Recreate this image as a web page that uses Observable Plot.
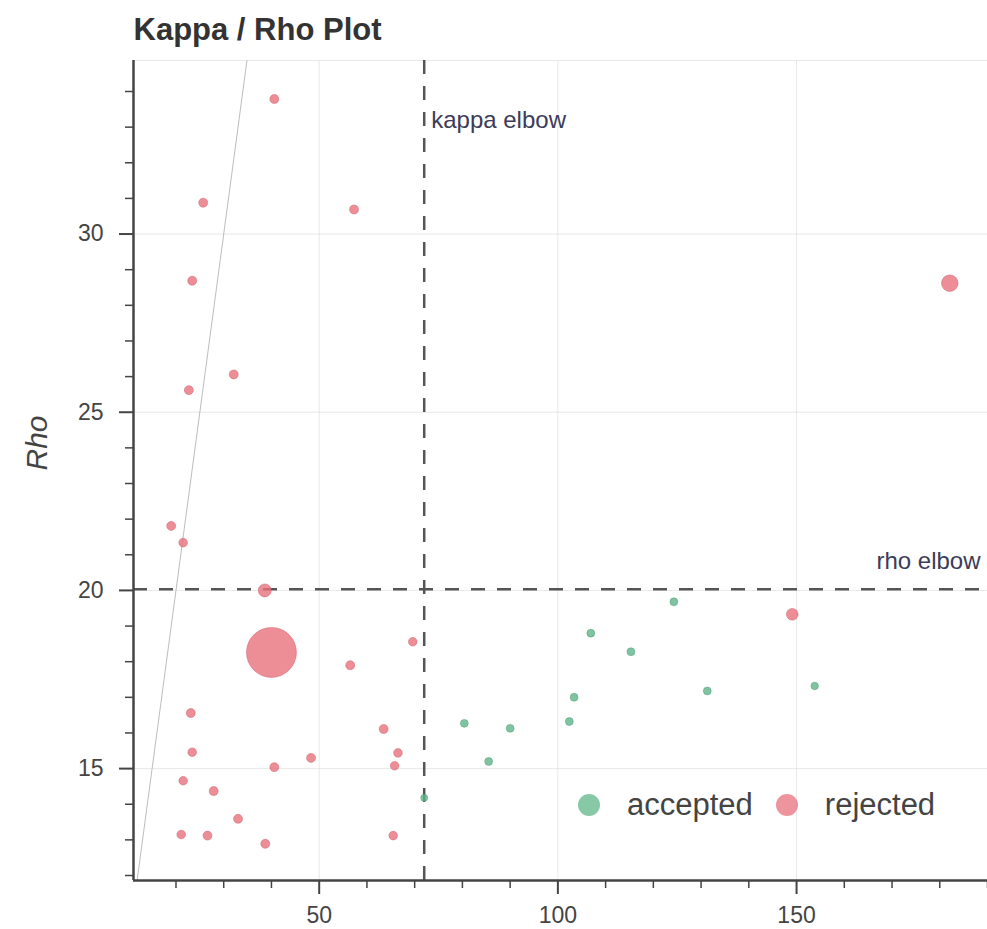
<!DOCTYPE html>
<html>
<head>
<meta charset="utf-8">
<script src="https://cdn.jsdelivr.net/npm/d3@7"></script>
<script src="https://cdn.jsdelivr.net/npm/@observablehq/plot@0.6"></script>
<style>
  body { margin: 0; background: #fff; font-family: "Liberation Sans", Arial, Helvetica, sans-serif; }
  #wrap { position: relative; width: 987px; height: 929px; }
  #legend { position: absolute; left: 578px; top: 787px; height: 36px; display: flex; align-items: center; font-size: 31px; line-height: 36px; color: #444; }
  #legend .sw { width: 22px; height: 22px; border-radius: 50%; opacity: 0.75; flex: none; }
  #legend .lab { margin-left: 27px; margin-right: 23px; }
</style>
</head>
<body>
<div id="wrap"></div>
<script>
// ---- data ----
const rejectedKappa = [40.6, 25.7, 57.3, 23.4, 32.1, 22.7, 19.0, 21.5, 38.6, 40.0, 69.6, 56.5, 23.1, 63.5, 23.4, 66.5, 48.3, 40.6, 65.8, 21.5, 27.9, 33.0, 21.1, 26.6, 65.5, 38.7, 182.1, 149.1];
const rejectedRho   = [33.79, 30.88, 30.69, 28.69, 26.06, 25.62, 21.81, 21.34, 20.0, 18.26, 18.56, 17.9, 16.56, 16.11, 15.46, 15.44, 15.30, 15.04, 15.08, 14.66, 14.37, 13.59, 13.15, 13.12, 13.12, 12.89, 28.62, 19.33];
const rejectedVarex = [0.65, 0.65, 0.65, 0.65, 0.65, 0.65, 0.65, 0.6, 1.35, 20.0, 0.6, 0.65, 0.65, 0.65, 0.6, 0.6, 0.65, 0.65, 0.6, 0.6, 0.65, 0.65, 0.6, 0.65, 0.6, 0.65, 2.2, 1.1];

const acceptedKappa = [72.0, 80.4, 85.5, 90.0, 102.4, 103.4, 106.9, 115.3, 124.3, 131.3, 153.8];
const acceptedRho   = [14.18, 16.27, 15.2, 16.13, 16.32, 17.0, 18.8, 18.28, 19.68, 17.18, 17.32];
const acceptedVarex = [0.4, 0.5, 0.5, 0.5, 0.5, 0.5, 0.5, 0.5, 0.5, 0.5, 0.45];

const kappaElbow = 72.0;
const rhoElbow = 20.03;

const xTicks = [50, 100, 150];
const xMinorTicks = [20, 30, 40, 60, 70, 80, 90, 110, 120, 130, 140, 160, 170, 180, 190];
const yTicks = [15, 20, 25, 30];
const yMinorTicks = [12, 13, 14, 16, 17, 18, 19, 21, 22, 23, 24, 26, 27, 28, 29, 31, 32, 33, 34];
const xDomain = [11.1, 190];
const yDomain = [11.86, 34.87];

const classes = ["accepted", "rejected"];
const classColors = ["#5fb58a", "#e8707c"];
const classStroke = ["#4f9a76", "#c85a68"];

// ---- build table ----
const points = [
  ...acceptedKappa.map((k, i) => ({kappa: k, rho: acceptedRho[i], varex: acceptedVarex[i], cls: "accepted"})),
  ...rejectedKappa.map((k, i) => ({kappa: k, rho: rejectedRho[i], varex: rejectedVarex[i], cls: "rejected"}))
];
const identity = [{kappa: yDomain[0], rho: yDomain[0]}, {kappa: yDomain[1], rho: yDomain[1]}];

const axisColor = "#444";

const chart = Plot.plot({
  width: 987,
  height: 929,
  marginTop: 60,
  marginLeft: 133,
  marginRight: 0,
  marginBottom: 49,
  style: {fontFamily: "'Liberation Sans', Arial, Helvetica, sans-serif", fontSize: "23px", color: "#444", background: "#fff", overflow: "visible"},
  x: {domain: xDomain},
  y: {domain: yDomain},
  r: {type: "sqrt", domain: [0, 20], range: [0, 25]},
  color: {domain: classes, range: classColors},
  marks: [
    Plot.gridX(xTicks, {stroke: "#d8d8d8", strokeOpacity: 0.6, strokeWidth: 1}),
    Plot.gridY(yTicks, {stroke: "#d8d8d8", strokeOpacity: 0.6, strokeWidth: 1}),
    Plot.ruleY([yDomain[1]], {stroke: "#e8e8e8", strokeWidth: 1}),
    Plot.line(identity, {x: "kappa", y: "rho", stroke: "#bdbdbd", strokeWidth: 1, clip: true}),
    Plot.ruleX([kappaElbow], {stroke: "#555", strokeWidth: 2.5, strokeDasharray: "14,12"}),
    Plot.ruleY([rhoElbow], {stroke: "#555", strokeWidth: 2.5, strokeDasharray: "14,12"}),
    Plot.dot(points, {
      x: "kappa", y: "rho", r: "varex", fill: "cls", fillOpacity: 0.8,
      stroke: d => classStroke[classes.indexOf(d.cls)], strokeOpacity: 0.45, strokeWidth: 1
    }),
    Plot.text([kappaElbow], {x: d => d, frameAnchor: "top", lineAnchor: "middle", dy: 60, dx: 7, textAnchor: "start", text: () => "kappa elbow", fontSize: 24, fill: "#3c3c5a"}),
    Plot.text([rhoElbow], {y: d => d, frameAnchor: "right", lineAnchor: "middle", dx: -7, dy: -28, textAnchor: "end", text: () => "rho elbow", fontSize: 24, fill: "#3c3c5a"}),
    // axes
    Plot.axisX(xMinorTicks, {anchor: "bottom", tickSize: 8, tickFormat: () => "", label: null, stroke: axisColor, strokeWidth: 1.5}),
    Plot.axisX(xTicks, {anchor: "bottom", tickSize: 14, tickPadding: 12, fontSize: 23, label: null, stroke: axisColor, strokeWidth: 2, fill: "#444"}),
    Plot.axisY(yMinorTicks, {anchor: "left", tickSize: 8, tickFormat: () => "", label: null, stroke: axisColor, strokeWidth: 1.5}),
    Plot.axisY(yTicks, {anchor: "left", tickSize: 14, tickPadding: 16, fontSize: 23, label: null, stroke: axisColor, strokeWidth: 2, fill: "#444"}),
    Plot.ruleX([xDomain[0]], {stroke: axisColor, strokeWidth: 2.5}),
    Plot.ruleY([yDomain[0]], {stroke: axisColor, strokeWidth: 2.5}),
    Plot.text(["Rho"], {frameAnchor: "left", dx: -96, rotate: -90, text: d => d, fontSize: 30, fontStyle: "italic", fill: "#444"}),
    Plot.text(["Kappa / Rho Plot"], {frameAnchor: "top-left", lineAnchor: "middle", dy: -30, textAnchor: "start", text: d => d, fontSize: 31, fontWeight: "bold", fill: "#333"})
  ]
});

const wrap = document.getElementById("wrap");
wrap.appendChild(chart);

// legend (inside plot area, bottom right)
const legend = document.createElement("div");
legend.id = "legend";
classes.forEach((c, i) => {
  const sw = document.createElement("span");
  sw.className = "sw";
  sw.style.background = classColors[i];
  const lab = document.createElement("span");
  lab.className = "lab";
  lab.textContent = c;
  legend.appendChild(sw);
  legend.appendChild(lab);
});
wrap.appendChild(legend);
</script>
</body>
</html>
